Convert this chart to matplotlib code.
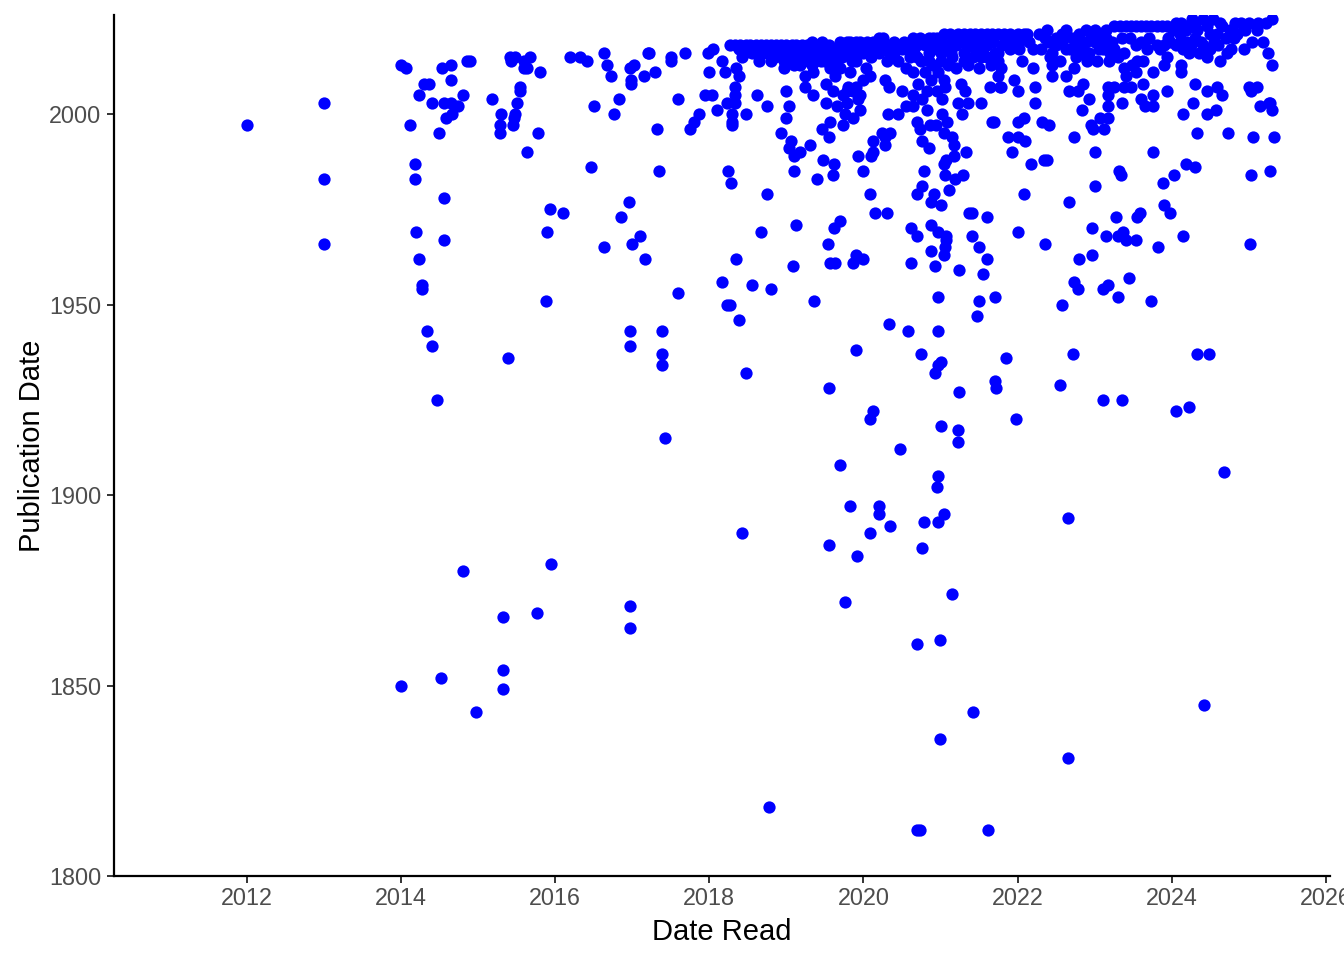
import matplotlib
matplotlib.use("Agg")
import matplotlib.pyplot as plt

# (date read as decimal year, publication year)
points_2012_14 = [
    (2012.0, 1997), (2013.0, 2003), (2013.0, 1983), (2013.0, 1966), (2014.0, 1850), (2014.0, 2013), (2014.07, 2012),
    (2014.12, 1997), (2014.18, 1987), (2014.19, 1983), (2014.2, 1969), (2014.24, 1962), (2014.28, 1955), (2014.27, 1954),
    (2014.34, 1943), (2014.41, 1939), (2014.47, 1925), (2014.52, 1852), (2014.23, 2005), (2014.3, 2008), (2014.36, 2008),
    (2014.41, 2003), (2014.53, 2012), (2014.5, 1995), (2014.56, 2003), (2014.65, 2003), (2014.65, 2009), (2014.65, 2013),
    (2014.59, 1999), (2014.66, 2000), (2014.74, 2002), (2014.8, 2005), (2014.86, 2014), (2014.9, 2014), (2014.56, 1978),
    (2014.56, 1967), (2014.8, 1880), (2014.98, 1843),
]
points_2015_16 = [
    (2015.18, 2004), (2015.28, 1995), (2015.29, 1997), (2015.3, 2000), (2015.33, 1868), (2015.32, 1854), (2015.32, 1849),
    (2015.39, 1936), (2015.41, 2015), (2015.43, 2014), (2015.48, 2015), (2015.46, 1997), (2015.47, 1999), (2015.48, 2000),
    (2015.5, 2003), (2015.54, 2006), (2015.55, 2007), (2015.78, 1995), (2015.64, 1990), (2015.8, 2011), (2015.67, 2015),
    (2015.6, 2012), (2015.64, 2012), (2015.6, 2014), (2015.77, 1869), (2015.88, 1951), (2015.89, 1969), (2015.94, 1975),
    (2015.95, 1882), (2016.1, 1974), (2016.2, 2015), (2016.32, 2015), (2016.41, 2014), (2016.46, 1986), (2016.5, 2002),
    (2016.63, 2016), (2016.67, 2013), (2016.64, 1965), (2016.72, 2010), (2016.76, 2000), (2016.83, 2004), (2016.86, 1973),
    (2016.96, 1977),
]
points_2017 = [
    (2016.97, 2012), (2017.02, 2013), (2016.98, 2008), (2016.98, 2009), (2016.97, 1939), (2016.97, 1943), (2016.97, 1871),
    (2016.97, 1865), (2017.0, 1966), (2017.1, 1968), (2017.15, 2010), (2017.17, 1962), (2017.2, 2016), (2017.22, 2016),
    (2017.3, 2011), (2017.32, 1996), (2017.35, 1985), (2017.39, 1943), (2017.39, 1937), (2017.39, 1934), (2017.43, 1915),
    (2017.5, 2014), (2017.5, 2015), (2017.59, 2004), (2017.6, 1953), (2017.68, 2016), (2017.75, 1996), (2017.8, 1998),
    (2017.87, 2000), (2017.94, 2005), (2017.98, 2016),
]
points_2018 = [
    (2018.03, 2005), (2018.05, 2017), (2017.99, 2011), (2018.1, 2001), (2018.16, 1956), (2018.17, 2014), (2018.2, 2011),
    (2018.23, 2003), (2018.24, 1985), (2018.23, 1950), (2018.27, 1950), (2018.28, 1982), (2018.35, 1962), (2018.39, 1946),
    (2018.43, 1890), (2018.47, 1932), (2018.47, 2000), (2018.3, 2000), (2018.3, 1998), (2018.3, 1997), (2018.34, 2003),
    (2018.34, 2005), (2018.34, 2007), (2018.35, 2012), (2018.39, 2010), (2018.55, 1955), (2018.62, 2005), (2018.67, 1969),
    (2018.75, 2002), (2018.75, 1979), (2018.8, 1954), (2018.77, 1818), (2018.93, 1995), (2018.42, 2015), (2018.65, 2014),
    (2018.8, 2014), (2018.97, 2012), (2018.97, 2014), (2018.27, 2018), (2018.33, 2018), (2018.4, 2018), (2018.47, 2018),
    (2018.53, 2018), (2018.6, 2018), (2018.67, 2018), (2018.73, 2018), (2018.8, 2018), (2018.87, 2018), (2018.93, 2018),
    (2018.38, 2017), (2018.45, 2016), (2018.7, 2016), (2018.75, 2016), (2018.85, 2017), (2018.95, 2016),
]
points_2019 = [
    (2019.0, 2006), (2019.03, 2002), (2019.0, 1999), (2019.06, 1993), (2019.04, 1991), (2019.18, 1990), (2019.1, 1989),
    (2019.1, 1985), (2019.3, 1992), (2019.12, 1971), (2019.09, 1960), (2019.35, 2005), (2019.24, 2007), (2019.52, 2003),
    (2019.66, 2002), (2019.6, 2006), (2019.55, 1994), (2019.46, 1996), (2019.56, 1998), (2019.48, 1988), (2019.62, 1987),
    (2019.6, 1984), (2019.4, 1983), (2019.36, 1951), (2019.54, 1966), (2019.55, 1928), (2019.55, 1887), (2019.57, 1961),
    (2019.63, 1961), (2019.62, 1970), (2019.7, 1972), (2019.7, 1908), (2019.76, 1872), (2019.82, 1897), (2019.86, 1961),
    (2019.93, 1989), (2019.9, 1938), (2019.92, 1884), (2019.9, 1963), (2019.99, 1962), (2019.76, 2000), (2019.73, 1997),
    (2019.87, 1999), (2019.96, 2001), (2019.79, 2003), (2019.73, 2005), (2019.8, 2007), (2019.9, 2007), (2019.96, 2005),
    (2019.93, 2004), (2019.79, 2006), (2019.87, 2006), (2019.52, 2008), (2019.63, 2010), (2019.7, 2012), (2019.5, 2014),
    (2019.35, 2011), (2019.24, 2010), (2019.37, 2014), (2019.18, 2013), (2019.0, 2018), (2019.07, 2018), (2019.13, 2018),
    (2019.2, 2018), (2019.27, 2018), (2019.33, 2019), (2019.46, 2019), (2019.4, 2018), (2019.55, 2018), (2019.7, 2019),
    (2019.83, 2019), (2019.95, 2019), (2019.78, 2019), (2019.9, 2019), (2019.05, 2016), (2019.15, 2016), (2019.25, 2015),
    (2019.3, 2016), (2019.4, 2016), (2019.45, 2014), (2019.6, 2017), (2019.65, 2015), (2019.75, 2017), (2019.85, 2016),
    (2019.9, 2014), (2019.97, 2017), (2019.1, 2013), (2019.33, 2013), (2019.57, 2012), (2019.83, 2011),
]
points_2020 = [
    (2020.0, 1985), (2020.08, 1979), (2020.09, 1890), (2020.08, 1920), (2020.12, 1922), (2020.12, 1990), (2020.1, 1989),
    (2020.15, 1974), (2020.2, 1897), (2020.2, 1895), (2020.3, 1974), (2020.33, 1945), (2020.34, 1892), (2020.47, 1912),
    (2020.28, 1994), (2020.35, 1995), (2020.12, 1993), (2020.24, 1995), (2020.28, 1992), (2020.32, 2000), (2020.45, 2000),
    (2020.5, 2006), (2020.55, 2002), (2020.58, 1943), (2020.61, 1961), (2020.61, 1970), (2020.7, 1968), (2020.7, 1861),
    (2020.69, 1812), (2020.73, 1812), (2020.74, 1937), (2020.76, 1886), (2020.78, 1893), (2020.78, 1985), (2020.7, 1979),
    (2020.76, 1981), (2020.69, 1998), (2020.73, 1996), (2020.76, 1993), (2020.85, 1991), (2020.88, 1977), (2020.87, 1971),
    (2020.87, 1964), (2020.91, 1979), (2020.93, 1932), (2020.93, 1960), (2020.96, 1893), (2020.95, 1902), (2020.96, 1905),
    (2020.96, 1969), (2020.96, 1952), (2020.96, 1943), (2020.97, 1934), (2020.03, 2012), (2020.08, 2010), (2020.0, 2009),
    (2020.28, 2009), (2020.33, 2007), (2020.64, 2005), (2020.76, 2004), (2020.64, 2002), (2020.82, 2001), (2020.86, 1997),
    (2020.94, 1997), (2020.71, 2008), (2020.64, 2011), (2020.82, 2006), (2020.95, 2006), (2020.2, 2020), (2020.25, 2020),
    (2020.12, 2019), (2020.4, 2019), (2020.53, 2019), (2020.64, 2020), (2020.73, 2020), (2020.85, 2020), (2020.9, 2020),
    (2020.95, 2020), (2020.05, 2017), (2020.15, 2018), (2020.1, 2015), (2020.25, 2017), (2020.3, 2014), (2020.4, 2016),
    (2020.5, 2017), (2020.45, 2014), (2020.6, 2015), (2020.7, 2018), (2020.75, 2014), (2020.85, 2016), (2020.9, 2013),
    (2020.95, 2017), (2020.55, 2012), (2020.8, 2011), (2020.97, 2011), (2020.88, 2009),
]
points_2021 = [
    (2021.0, 1935), (2020.99, 1862), (2020.99, 1836), (2021.0, 1918), (2021.01, 1976), (2021.05, 1895), (2021.04, 1963),
    (2021.06, 1965), (2021.07, 1967), (2021.07, 1968), (2021.04, 1987), (2021.06, 1984), (2021.07, 1988), (2021.11, 1980),
    (2021.15, 1874), (2021.15, 1994), (2021.17, 1992), (2021.17, 1989), (2021.19, 1983), (2021.23, 1917), (2021.23, 1914),
    (2021.24, 1927), (2021.24, 1959), (2021.29, 1984), (2021.33, 1990), (2021.37, 1974), (2021.41, 1974), (2021.41, 1968),
    (2021.42, 1843), (2021.47, 1947), (2021.5, 1965), (2021.5, 1951), (2021.55, 1958), (2021.6, 1973), (2021.6, 1962),
    (2021.62, 1812), (2021.7, 1952), (2021.7, 1930), (2021.72, 1928), (2021.85, 1936), (2021.02, 2000), (2021.08, 1998),
    (2021.04, 1995), (2021.04, 2009), (2021.06, 2007), (2021.02, 2004), (2021.23, 2003), (2021.35, 2003), (2021.53, 2003),
    (2021.28, 2000), (2021.26, 2008), (2021.32, 2006), (2021.64, 2007), (2021.74, 2010), (2021.77, 2007), (2021.67, 1998),
    (2021.05, 2021), (2021.12, 2021), (2021.22, 2021), (2021.3, 2021), (2021.38, 2021), (2021.45, 2021), (2021.52, 2021),
    (2021.6, 2021), (2021.67, 2021), (2021.75, 2021), (2021.82, 2021), (2021.9, 2021), (2021.05, 2018), (2021.13, 2016),
    (2021.2, 2018), (2021.3, 2016), (2021.38, 2019), (2021.45, 2017), (2021.52, 2015), (2021.6, 2018), (2021.7, 2016),
    (2021.8, 2018), (2021.9, 2017), (2021.1, 2013), (2021.2, 2012), (2021.35, 2013), (2021.5, 2012), (2021.65, 2013),
    (2021.78, 2012), (2021.74, 2014), (2021.95, 2009), (2021.78, 2007), (2021.69, 1998), (2021.87, 1994), (2021.92, 1990),
]
points_2022 = [
    (2022.0, 2021), (2022.08, 2021), (2022.05, 2014), (2022.2, 2012), (2022.0, 2006), (2022.23, 2007), (2022.23, 2003),
    (2022.0, 1998), (2022.08, 1999), (2022.32, 1998), (2022.4, 1997), (2022.0, 1994), (2022.09, 1993), (2022.17, 1987),
    (2022.34, 1988), (2022.38, 1988), (2022.0, 1969), (2022.08, 1979), (2021.98, 1920), (2022.36, 1966), (2022.55, 1929),
    (2022.57, 1950), (2022.65, 1894), (2022.65, 1831), (2022.67, 1977), (2022.72, 1937), (2022.73, 1956), (2022.78, 1954),
    (2022.8, 1962), (2022.73, 1994), (2022.83, 2001), (2022.66, 2006), (2022.78, 2006), (2022.85, 2008), (2022.92, 2004),
    (2022.96, 1963), (2022.96, 1970), (2022.95, 1997), (2022.98, 1996), (2022.38, 2022), (2022.27, 2021), (2022.62, 2022),
    (2022.58, 2021), (2022.88, 2022), (2022.73, 2012), (2022.62, 2010), (2022.45, 2010), (2022.15, 2019), (2022.3, 2017),
    (2022.45, 2016), (2022.55, 2014), (2022.45, 2013), (2022.62, 2017), (2022.7, 2020), (2022.75, 2015), (2022.8, 2021),
    (2022.85, 2018), (2022.92, 2016), (2022.95, 2021), (2022.2, 2017), (2022.5, 2018), (2022.35, 2020),
]
points_2023 = [
    (2023.0, 2022), (2023.0, 1981), (2023.0, 1990), (2023.1, 1925), (2023.11, 1954), (2023.17, 1955), (2023.15, 1968),
    (2023.12, 1996), (2023.07, 1999), (2023.17, 1999), (2023.17, 2002), (2023.17, 2005), (2023.17, 2007), (2023.27, 1973),
    (2023.3, 1968), (2023.3, 1952), (2023.31, 1985), (2023.34, 1984), (2023.35, 1925), (2023.37, 1969), (2023.41, 1967),
    (2023.44, 1957), (2023.53, 1967), (2023.55, 1973), (2023.58, 1974), (2023.73, 1951), (2023.76, 1990), (2023.82, 1965),
    (2023.88, 1982), (2023.9, 1976), (2023.98, 1974), (2023.35, 2003), (2023.25, 2007), (2023.38, 2007), (2023.47, 2007),
    (2023.63, 2008), (2023.6, 2004), (2023.76, 2005), (2023.65, 2002), (2023.76, 2002), (2023.94, 2006), (2023.38, 2012),
    (2023.4, 2010), (2023.53, 2011), (2023.48, 2013), (2023.63, 2014), (2023.55, 2014), (2023.75, 2011), (2023.9, 2013),
    (2023.94, 2015), (2023.53, 2018), (2023.38, 2016), (2023.3, 2015), (2023.12, 2019), (2023.03, 2014), (2023.14, 2022),
    (2023.25, 2023), (2023.33, 2023), (2023.4, 2023), (2023.47, 2023), (2023.53, 2023), (2023.6, 2023), (2023.67, 2023),
    (2023.73, 2023), (2023.8, 2023), (2023.87, 2023), (2023.93, 2023), (2023.98, 2019), (2023.8, 2018), (2023.1, 2017),
    (2023.2, 2016), (2023.08, 2020), (2023.22, 2019), (2023.7, 2020), (2023.85, 2017), (2023.95, 2020),
]
points_2024_25 = [
    (2024.03, 1984), (2024.05, 1922), (2024.15, 1968), (2024.18, 1987), (2024.22, 1923), (2024.3, 1986), (2024.33, 1937),
    (2024.42, 1845), (2024.48, 1937), (2024.68, 1906), (2024.32, 1995), (2024.73, 1995), (2025.05, 1994), (2025.33, 1994),
    (2025.03, 1984), (2025.27, 1985), (2025.01, 1966), (2024.12, 2011), (2024.12, 2013), (2024.27, 2003), (2024.14, 2000),
    (2024.3, 2008), (2024.45, 2006), (2024.58, 2007), (2024.65, 2005), (2024.46, 2000), (2024.57, 2001), (2025.0, 2007),
    (2025.1, 2007), (2025.02, 2006), (2025.26, 2003), (2025.14, 2002), (2025.3, 2001), (2025.27, 2003), (2025.3, 2013),
    (2025.18, 2019), (2025.25, 2016), (2025.04, 2019), (2024.93, 2017), (2024.76, 2017), (2024.62, 2014), (2024.5, 2017),
    (2024.35, 2016), (2024.45, 2015), (2024.2, 2019), (2024.05, 2024), (2024.26, 2025), (2024.4, 2025), (2024.53, 2025),
    (2024.62, 2024), (2024.82, 2024), (2024.9, 2024), (2025.0, 2024), (2025.12, 2024), (2025.22, 2024), (2025.3, 2025),
    (2024.12, 2024), (2024.2, 2023), (2024.33, 2022), (2024.45, 2023), (2024.58, 2021), (2024.3, 2020), (2024.4, 2018),
    (2024.55, 2019), (2024.7, 2020), (2024.1, 2021), (2024.15, 2017), (2024.25, 2018), (2024.85, 2021), (2024.75, 2022),
]
# thick part of the top band, where the dots overlap
points_band = [
    (2018.55, 2016), (2018.6, 2017), (2018.85, 2015), (2018.9, 2016), (2019.0, 2015), (2019.05, 2014), (2019.1, 2017),
    (2019.15, 2014), (2019.22, 2017), (2019.28, 2014), (2019.35, 2016), (2019.42, 2017), (2019.5, 2016), (2019.55, 2015),
    (2019.6, 2014), (2019.68, 2017), (2019.72, 2015), (2019.8, 2017), (2019.85, 2014), (2019.92, 2016), (2020.0, 2016),
    (2020.05, 2019), (2020.1, 2017), (2020.2, 2016), (2020.3, 2018), (2020.35, 2016), (2020.45, 2018), (2020.55, 2017),
    (2020.6, 2018), (2020.65, 2016), (2020.7, 2015), (2020.8, 2018), (2020.85, 2014), (2020.9, 2018), (2021.0, 2019),
    (2021.0, 2016), (2021.0, 2014), (2021.08, 2017), (2021.15, 2015), (2021.15, 2019), (2021.25, 2019), (2021.3, 2014),
    (2021.35, 2018), (2021.42, 2015), (2021.5, 2019), (2021.55, 2017), (2021.6, 2015), (2021.68, 2019), (2021.75, 2016),
    (2021.85, 2019), (2021.95, 2019), (2022.02, 2019), (2022.02, 2017), (2022.12, 2021), (2022.4, 2019), (2022.42, 2015),
    (2022.5, 2020), (2022.57, 2019), (2022.68, 2017), (2022.78, 2018), (2022.82, 2016), (2022.88, 2019), (2022.9, 2014),
    (2023.0, 2019), (2023.05, 2017), (2023.15, 2020), (2023.18, 2014), (2023.25, 2017), (2023.35, 2020), (2023.45, 2020),
    (2023.6, 2019), (2023.68, 2017), (2023.9, 2018), (2024.02, 2022), (2024.05, 2018), (2024.1, 2019), (2024.18, 2022),
    (2024.22, 2016), (2024.3, 2023), (2024.38, 2019), (2024.5, 2021), (2024.6, 2018), (2024.65, 2023), (2024.72, 2016),
    (2024.8, 2020), (2024.95, 2022), (2025.1, 2022),
]

point_groups = [points_2012_14, points_2015_16, points_2017, points_2018, points_2019,
                points_2020, points_2021, points_2022, points_2023, points_2024_25, points_band]
date_read = [p[0] for group in point_groups for p in group]
pub_year = [p[1] for group in point_groups for p in group]

x_ticks = [2012, 2014, 2016, 2018, 2020, 2022, 2024, 2026]
y_ticks = [1800, 1850, 1900, 1950, 2000]

plt.rcParams["font.family"] = ["Liberation Sans", "DejaVu Sans"]

fig = plt.figure(figsize=(13.44, 9.6), dpi=100)
ax = fig.add_axes([114 / 1344, 84 / 960, 1216 / 1344, 861 / 960])
ax.scatter(date_read, pub_year, s=78, color="#0000ff", linewidths=0, zorder=3)

ax.set_xlim(2010.28, 2026.05)
ax.set_ylim(1800, 2026)
ax.set_xticks(x_ticks)
ax.set_yticks(y_ticks)
ax.set_xlabel("Date Read", fontsize=21, labelpad=6)
ax.set_ylabel("Publication Date", fontsize=21, labelpad=2)
ax.tick_params(axis="both", labelsize=16.8, labelcolor="#4d4d4d", length=5, width=1.4, color="#333333", pad=3)
ax.tick_params(axis="y", pad=4)
for side in ["top", "right"]:
    ax.spines[side].set_visible(False)
for side in ["left", "bottom"]:
    ax.spines[side].set_linewidth(1.6)

fig.savefig("out.png", dpi=100)
